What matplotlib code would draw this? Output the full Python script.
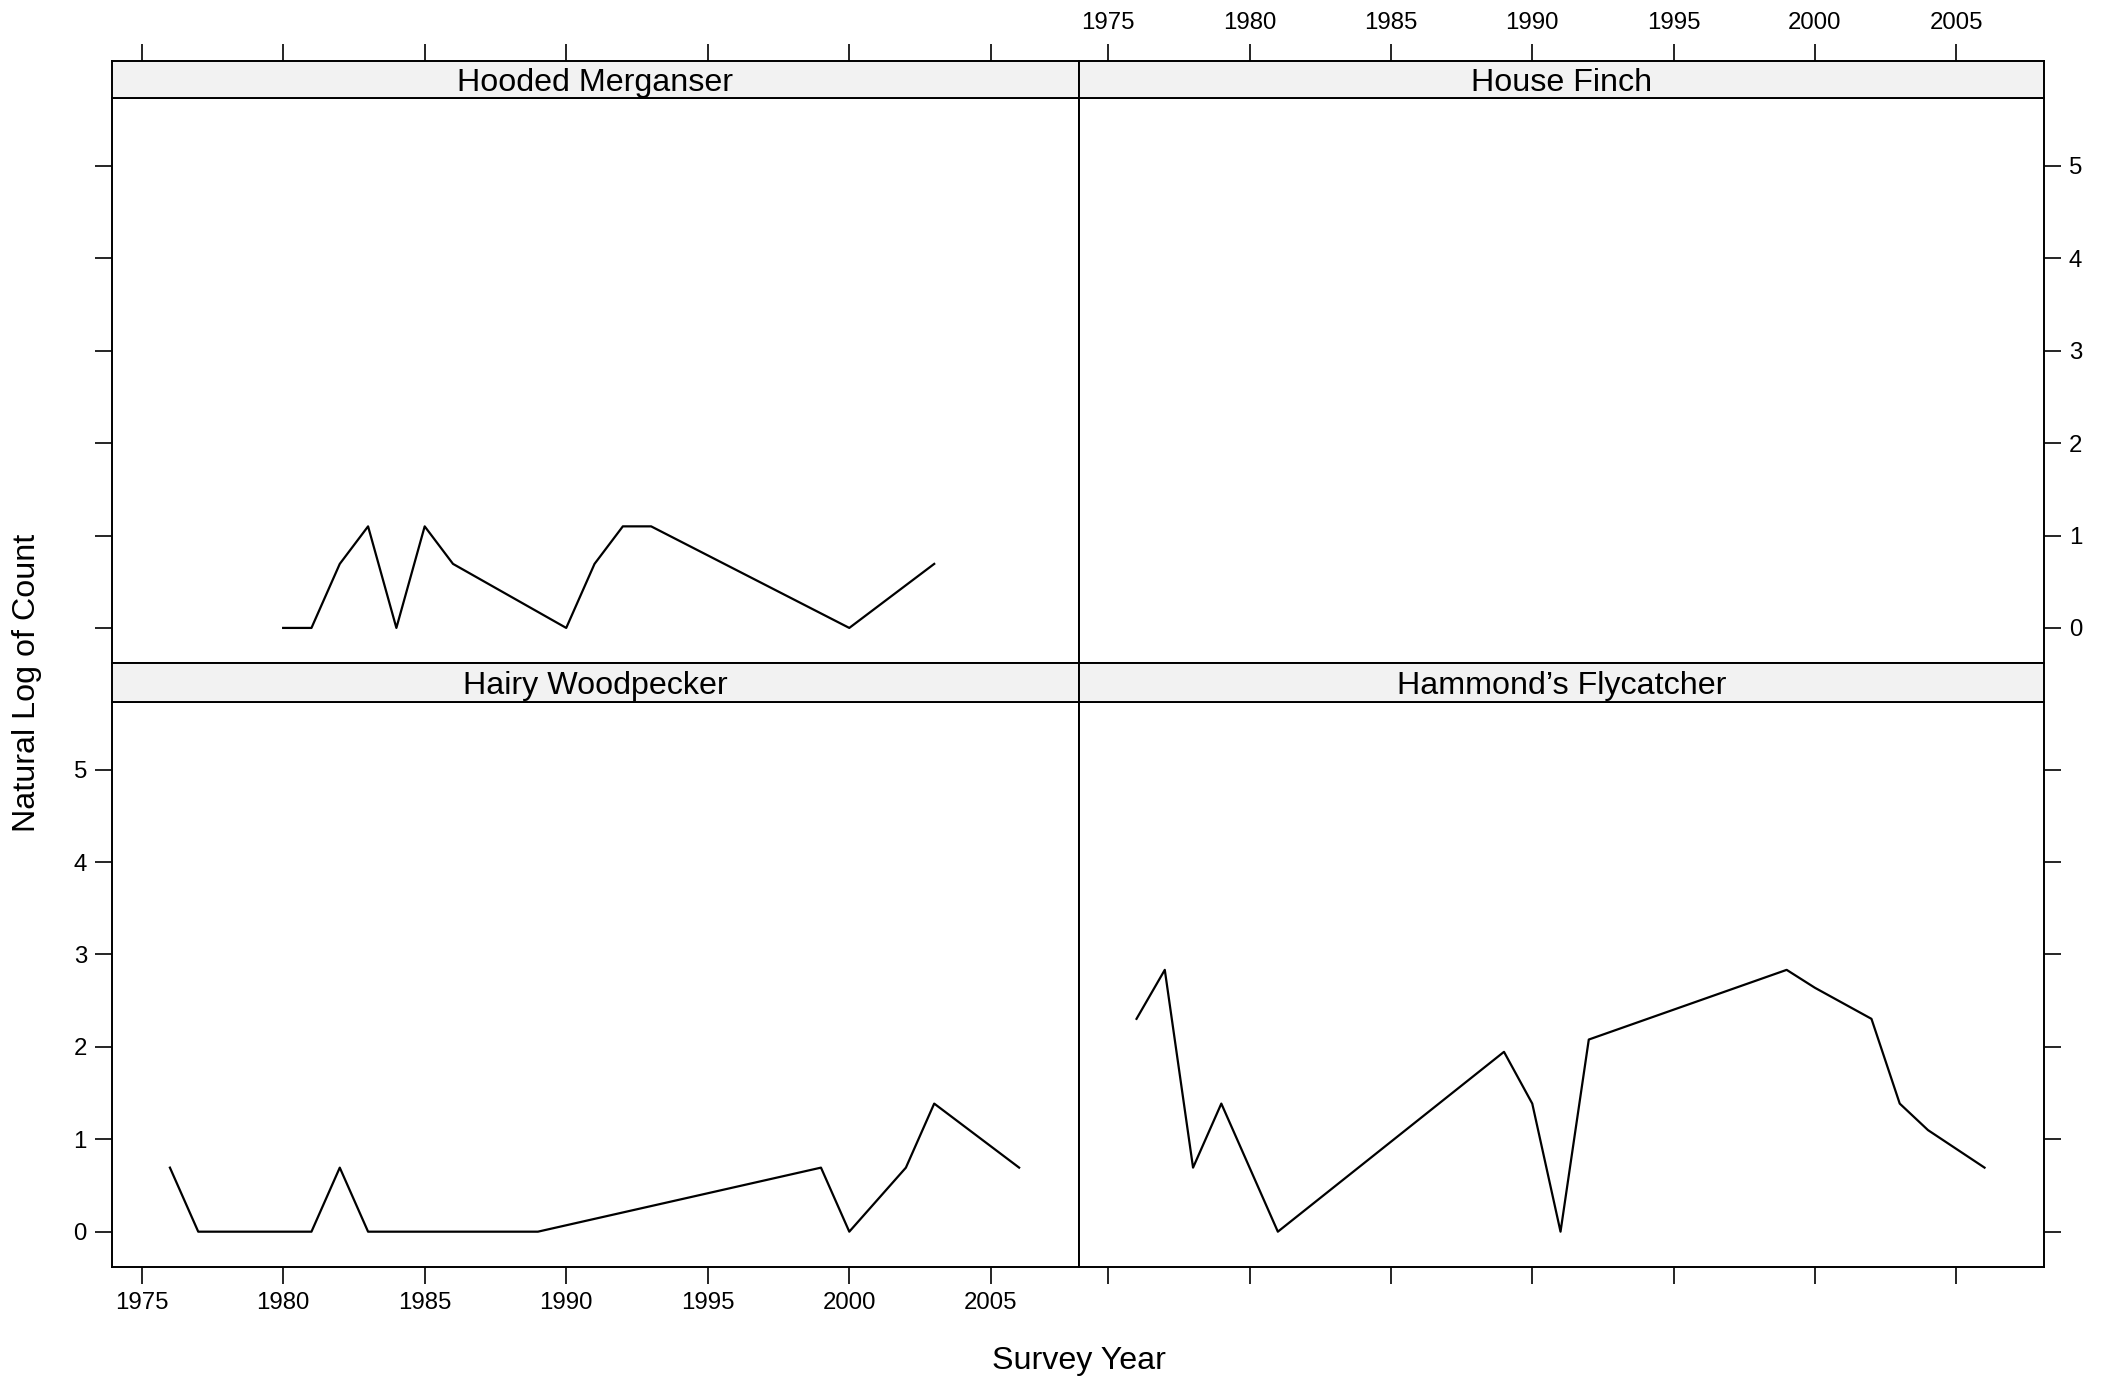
import matplotlib
matplotlib.use("Agg")
import matplotlib.pyplot as plt

plt.rcParams['font.family'] = ['Liberation Sans', 'DejaVu Sans']

## data: natural log of counts per survey year
merg_years = [1980, 1981, 1982, 1983, 1984, 1985, 1986, 1990, 1991, 1992, 1993, 2000, 2003]
merg_vals = [0, 0, 0.693, 1.099, 0, 1.099, 0.693, 0, 0.693, 1.099, 1.099, 0, 0.693]

finch_years = []
finch_vals = []

wood_years = [1976, 1977, 1978, 1979, 1980, 1981, 1982, 1983, 1984, 1985, 1986, 1987,
              1988, 1989, 1999, 2000, 2002, 2003, 2006]
wood_vals = [0.693, 0, 0, 0, 0, 0, 0.693, 0, 0, 0, 0, 0,
             0, 0, 0.693, 0, 0.693, 1.386, 0.693]

fly_years = [1976, 1977, 1978, 1979, 1981, 1989, 1990, 1991, 1992, 1999, 2000, 2002,
             2003, 2004, 2006]
fly_vals = [2.303, 2.833, 0.693, 1.386, 0, 1.946, 1.386, 0, 2.079, 2.833, 2.639, 2.303,
            1.386, 1.099, 0.693]

panel_names = ["Hooded Merganser", "House Finch", "Hairy Woodpecker", "Hammond\u2019s Flycatcher"]
x_ticks = [1975, 1980, 1985, 1990, 1995, 2000, 2005]
y_ticks = [0, 1, 2, 3, 4, 5]
xlim = (1973.95, 2008.1)
ylim = (-0.38, 5.73)

fig = plt.figure(figsize=(21.14, 13.80), dpi=100)

W, H = 1568.0, 1024.0
cols = [(83, 800), (800, 1516)]
rows = [(73, 492, 45), (521, 940, 492)]  # panel top, panel bottom, strip top

series = [(merg_years, merg_vals), (finch_years, finch_vals),
          (wood_years, wood_vals), (fly_years, fly_vals)]

tick_fs = 17.3
lab_fs = 23.2
lw_box = 1.4
tlen = 12

for r in range(2):
    for c in range(2):
        i = r * 2 + c
        x0, x1 = cols[c]
        ptop, pbot, stop = rows[r]
        ax = fig.add_axes([x0 / W, 1 - pbot / H, (x1 - x0) / W, (pbot - ptop) / H])
        sax = fig.add_axes([x0 / W, 1 - ptop / H, (x1 - x0) / W, (ptop - stop) / H])

        yrs, vals = series[i]
        if yrs:
            ax.plot(yrs, vals, color='black', lw=1.6)
        ax.set_xlim(*xlim)
        ax.set_ylim(*ylim)

        # strip
        sax.set_facecolor('#f2f2f2')
        sax.set_xlim(*xlim)
        sax.set_yticks([])
        sax.text(0.5, 0.42, panel_names[i], transform=sax.transAxes,
                 ha='center', va='center', fontsize=lab_fs)
        for sp in sax.spines.values():
            sp.set_linewidth(lw_box)
        for sp in ax.spines.values():
            sp.set_linewidth(lw_box)

        # x ticks: bottom row -> bottom, top row -> top of strip
        ax.set_xticks(x_ticks)
        sax.set_xticks(x_ticks)
        ax.tick_params(axis='both', direction='out', length=tlen, width=1.2,
                       labelsize=tick_fs, pad=6)
        sax.tick_params(axis='x', direction='out', length=tlen, width=1.2,
                        labelsize=tick_fs, pad=7)
        if r == 0:
            ax.tick_params(axis='x', bottom=False, labelbottom=False)
            sax.tick_params(axis='x', bottom=False, labelbottom=False,
                            top=True, labeltop=(c == 1))
        else:
            sax.tick_params(axis='x', bottom=False, labelbottom=False)
            ax.tick_params(axis='x', labelbottom=(c == 0))

        ax.set_yticks(y_ticks)
        if c == 0:
            ax.tick_params(axis='y', left=True, right=False, labelleft=(r == 1))
        else:
            ax.tick_params(axis='y', left=False, labelleft=False, right=True,
                           labelright=(r == 0))

fig.text(800 / W, 1 - 1010 / H, "Survey Year", ha='center', va='center', fontsize=lab_fs)
fig.text(20 / W, 1 - 507 / H, "Natural Log of Count", ha='center', va='center',
         rotation=90, fontsize=lab_fs)

fig.savefig("out.png", dpi=100)
